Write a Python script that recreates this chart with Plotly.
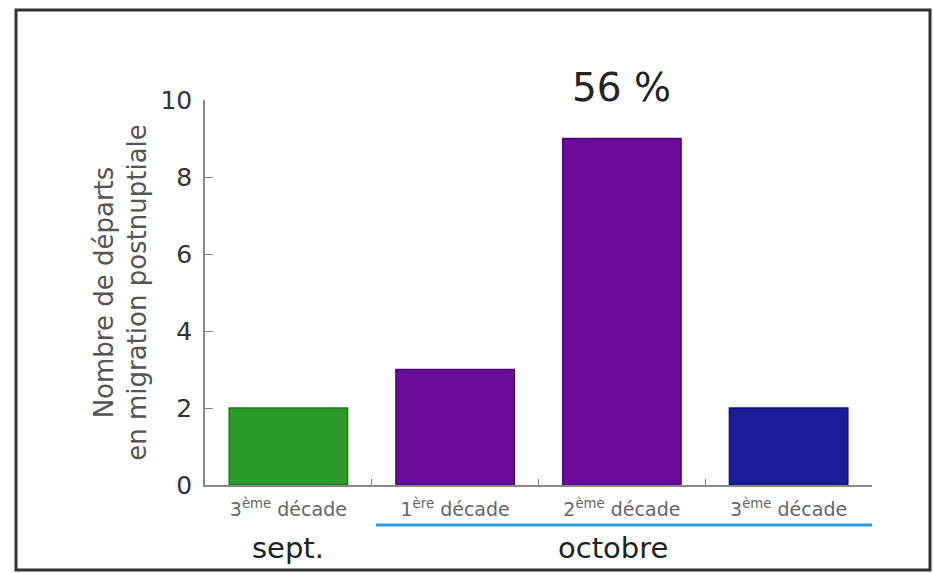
import plotly.graph_objects as go

categories = ["3e sept", "1re oct", "2e oct", "3e oct"]
tick_labels = ["3<sup>ème</sup> décade", "1<sup>ère</sup> décade", "2<sup>ème</sup> décade", "3<sup>ème</sup> décade"]
values = [2, 3, 9, 2]
colors = ["#2a9a2a", "#6a0a9a", "#6a0a9a", "#1c1c96"]
outline = ["#1d7a1d", "#4e0575", "#4e0575", "#12126e"]
months = ["sept.", "octobre"]
y_ticks = [0, 2, 4, 6, 8, 10]

W, H = 933, 573
L, R, T, B = 205, 61, 100, 88
pw, ph = W - L - R, H - T - B

def px(x):
    return (x - L) / pw

def py(y):
    return (H - B - y) / ph

fig = go.Figure()
fig.add_trace(go.Bar(
    x=categories, y=values,
    marker=dict(color=colors, line=dict(color=outline, width=1.5)),
    width=0.71,
))

fig.update_layout(
    width=W, height=H,
    margin=dict(l=L, r=R, t=T, b=B),
    paper_bgcolor="white", plot_bgcolor="white",
    showlegend=False,
    font=dict(family="DejaVu Sans", color="#444"),
    xaxis=dict(
        type="category", range=[-0.5, 3.5], tickmode="array", tickvals=categories, ticktext=tick_labels,
        showline=True, linecolor="#888", linewidth=1.5, showgrid=False, zeroline=False,
        ticks="inside", ticklen=6, tickcolor="#888", tickson="boundaries",
        tickfont=dict(size=19, color="#666"), ticklabelstandoff=6, fixedrange=True,
    ),
    yaxis=dict(
        range=[0, 10], tickvals=y_ticks,
        showline=True, linecolor="#888", linewidth=1.5, showgrid=False, zeroline=False,
        ticks="inside", ticklen=8, tickcolor="#888",
        tickfont=dict(size=25, color="#333"), ticklabelstandoff=6,
        title=dict(text="Nombre de départs<br>en migration postnuptiale", font=dict(size=26, color="#555"), standoff=6),
        fixedrange=True,
    ),
)

fig.add_annotation(x=categories[2], y=py(87), xref="x", yref="paper", text="56 %", showarrow=False,
                   font=dict(size=39, color="#222"), yanchor="middle")
fig.add_annotation(x=categories[0], y=py(548), xref="x", yref="paper", text=months[0], showarrow=False,
                   font=dict(size=29, color="#222"), yanchor="middle")
fig.add_annotation(x=px(613), y=py(548), xref="paper", yref="paper", text=months[1], showarrow=False,
                   font=dict(size=29, color="#222"), yanchor="middle")

fig.add_shape(type="line", xref="paper", yref="paper", x0=px(376), x1=px(872), y0=py(525), y1=py(525),
              line=dict(color="#2a9ae0", width=3))
fig.add_shape(type="rect", xref="paper", yref="paper", x0=px(16), x1=px(930), y0=py(570), y1=py(10),
              line=dict(color="#333", width=3), fillcolor="rgba(0,0,0,0)", layer="above")

fig.write_html("out.html")
